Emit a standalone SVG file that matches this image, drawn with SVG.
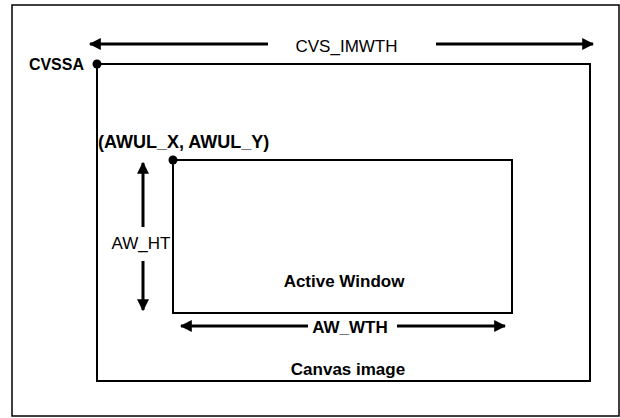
<svg xmlns="http://www.w3.org/2000/svg" width="620" height="418" viewBox="0 0 620 418">
<style>
.box{fill:none;stroke:#000;stroke-width:2}
.arr{stroke:#000;stroke-width:3;fill:none}
.t{font-family:"Liberation Sans",Arial,sans-serif;font-size:17px;fill:#000}
.b{font-weight:bold}
.dot{fill:#000}
</style>
<defs>
<marker id="ah" viewBox="0 0 10 10" refX="9" refY="5" markerWidth="4" markerHeight="4" markerUnits="strokeWidth" orient="auto-start-reverse">
<path d="M0,0 L10,5 L0,10 Z" fill="#000"/>
</marker>
</defs>
<rect x="12" y="5" width="607" height="411" fill="#fff" stroke="#000" stroke-width="1.5"/>
<g id="canvas">
<rect class="box" x="97" y="64" width="493" height="317"/>
<text class="t b" x="348" y="375" text-anchor="middle">Canvas image</text>
</g>
<g id="cvssa">
<circle class="dot" cx="97" cy="64" r="4.5"/>
<text class="t b" x="84" y="70" text-anchor="end" style="font-size:16px">CVSSA</text>
</g>
<g id="active-window">
<rect class="box" x="173" y="160" width="339" height="153"/>
<text class="t b" x="344" y="287" text-anchor="middle">Active Window</text>
</g>
<g id="awul">
<circle class="dot" cx="173" cy="160" r="4.5"/>
<text class="t b" x="98" y="148" style="font-size:18px">(AWUL_X, AWUL_Y)</text>
</g>
<g id="connectors">
<line class="arr" x1="268" y1="44" x2="90" y2="44" marker-end="url(#ah)"/>
<line class="arr" x1="436" y1="44" x2="593" y2="44" marker-end="url(#ah)"/>
<line class="arr" x1="143" y1="227" x2="143" y2="163" marker-end="url(#ah)"/>
<line class="arr" x1="143" y1="261" x2="143" y2="310" marker-end="url(#ah)"/>
<line class="arr" x1="308" y1="326" x2="181" y2="326" marker-end="url(#ah)"/>
<line class="arr" x1="397" y1="326" x2="505" y2="326" marker-end="url(#ah)"/>
</g>
<g id="labels">
<text class="t" x="346.5" y="52" text-anchor="middle">CVS_IMWTH</text>
<text class="t" x="141" y="249" text-anchor="middle">AW_HT</text>
<text class="t b" x="350" y="333" text-anchor="middle">AW_WTH</text>
</g>
</svg>
